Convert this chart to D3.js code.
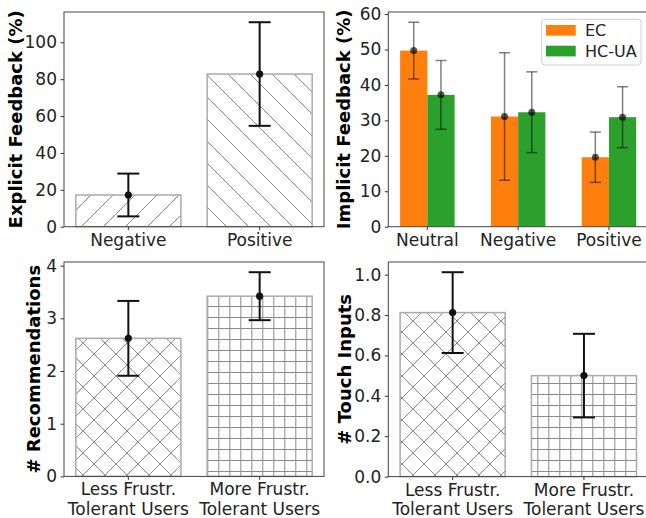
<!DOCTYPE html>
<html><head><meta charset="utf-8">
<script src="https://cdn.jsdelivr.net/npm/d3@7"></script>
<style>body{margin:0;background:#fff} text{font-family:"DejaVu Sans",sans-serif}</style>
</head><body>
<svg id="c" width="646" height="518"></svg>
<script>
// ---------- data ----------
const explicitCats = ["Negative", "Positive"];
const explicitVals = [17.2, 82.8];
const explicitErr  = [11.6, 28.1];
const explicitTicks = [0, 20, 40, 60, 80, 100];

const implicitCats = ["Neutral", "Negative", "Positive"];
const implicitSeries = ["EC", "HC-UA"];
const ecVals = [49.7, 31.1, 19.6];
const ecErr  = [8.0, 18.0, 7.1];
const hcVals = [37.2, 32.3, 30.9];
const hcErr  = [9.7, 11.4, 8.6];
const implicitTicks = [0, 10, 20, 30, 40, 50, 60];

const userCats = [["Less Frustr.", "Tolerant Users"], ["More Frustr.", "Tolerant Users"]];
const recVals = [2.62, 3.42];
const recErr  = [0.71, 0.455];
const recTicks = [0, 1, 2, 3, 4];
const touchVals = [0.812, 0.50];
const touchErr  = [0.20, 0.207];
const touchTicks = [0, 0.2, 0.4, 0.6, 0.8, 1.0];

// ---------- setup ----------
const svg = d3.select("#c");
const FS = "17px";
const defs = svg.append("defs");
function pat(id, w, d, ox, oy) {
  const p = defs.append("pattern").attr("id", id).attr("patternUnits", "userSpaceOnUse")
    .attr("width", w).attr("height", w).attr("x", ox).attr("y", oy);
  p.append("path").attr("d", d).attr("stroke", "#8a8a8a").attr("stroke-width", 1).attr("fill", "none");
}
pat("hNE", 22, "M-5.5,5.5L5.5,-5.5M0,22L22,0M16.5,27.5L27.5,16.5", 0, 0);
pat("hNW", 22, "M-5.5,16.5L5.5,27.5M0,0L22,22M16.5,-5.5L27.5,5.5", 0, 0);
pat("hX", 22, "M-5.5,5.5L5.5,-5.5M0,22L22,0M16.5,27.5L27.5,16.5M-5.5,16.5L5.5,27.5M0,0L22,22M16.5,-5.5L27.5,5.5", 6, 2);
pat("hPlus", 11, "M5.5,0V11M0,5.5H11", 4.3, 4);

function axesFrame(b, x, y, ticks, fmt, ylabel, labelX) {
  const ax = svg.append("g").attr("transform", `translate(${b.left},0)`)
    .call(d3.axisLeft(y).tickValues(ticks).tickFormat(fmt).tickSize(3.5).tickPadding(3.5));
  ax.select(".domain").remove();
  ax.selectAll("line").attr("stroke", "#333");
  ax.selectAll("text").attr("font-size", FS).attr("fill", "#222").style("font-family", "DejaVu Sans");
  svg.append("text").attr("transform", `translate(${labelX},${(b.top + b.bottom) / 2}) rotate(-90)`)
    .attr("text-anchor", "middle").attr("font-size", "18px").attr("font-weight", "bold")
    .attr("fill", "#000").text(ylabel);
}
function xAxis(b, x, idx, labels, twoLine) {
  const g = svg.append("g");
  idx.forEach((i, k) => {
    const cx = x(i);
    g.append("line").attr("x1", cx).attr("x2", cx).attr("y1", b.bottom).attr("y2", b.bottom + 3.5).attr("stroke", "#333");
    const t = g.append("text").attr("text-anchor", "middle").attr("font-size", FS).attr("fill", "#222");
    if (twoLine) {
      labels[k].forEach((ln, j) => t.append("tspan").attr("x", cx).attr("y", b.bottom + 19 + j * 19.6).text(ln));
    } else {
      t.attr("x", cx).attr("y", b.bottom + 19).text(labels[k]);
    }
  });
}
function spines(b) {
  svg.append("rect").attr("x", b.left).attr("y", b.top).attr("width", b.right - b.left)
    .attr("height", b.bottom - b.top).attr("fill", "none").attr("stroke", "#444").attr("stroke-width", 1);
}
function hatchBar(x0, x1, y0, y1, patId) {
  svg.append("rect").attr("x", x0).attr("y", y1).attr("width", x1 - x0).attr("height", y0 - y1).attr("fill", "#fff");
  svg.append("rect").attr("x", x0).attr("y", y1).attr("width", x1 - x0).attr("height", y0 - y1)
    .attr("fill", `url(#${patId})`).attr("stroke", "#aaa").attr("stroke-width", 1.5);
}
function errBar(cx, y, v, e, cap, color, op, lw, r, dotOp) {
  const g = svg.append("g");
  g.append("line").attr("x1", cx).attr("x2", cx).attr("y1", y(v - e)).attr("y2", y(v + e))
    .attr("stroke", color).attr("stroke-opacity", op).attr("stroke-width", lw);
  [v - e, v + e].forEach(t => g.append("line").attr("x1", cx - cap).attr("x2", cx + cap)
    .attr("y1", y(t)).attr("y2", y(t)).attr("stroke", color).attr("stroke-opacity", op).attr("stroke-width", lw));
  g.append("circle").attr("cx", cx).attr("cy", y(v)).attr("r", r).attr("fill", color).attr("fill-opacity", dotOp);
}
const ymaxOf = (vals, errs) => d3.max(vals.map((v, i) => v + errs[i])) * 1.05;

// ---------- panel 1: explicit ----------
{
  const b = {left: 64, right: 324, top: 12, bottom: 226.7};
  const x = d3.scaleLinear().domain([-0.49, 1.49]).range([b.left, b.right]);
  const y = d3.scaleLinear().domain([0, ymaxOf(explicitVals, explicitErr)]).range([b.bottom, b.top]);
  const pats = ["hNE", "hNW"];
  explicitVals.forEach((v, i) => hatchBar(x(i - 0.4), x(i + 0.4), y(0), y(v), pats[i]));
  explicitVals.forEach((v, i) => errBar(x(i), y, v, explicitErr[i], 11, "#111", 1, 2, 3.6, 1));
  axesFrame(b, x, y, explicitTicks, d3.format("d"), "Explicit Feedback (%)", 21.6);
  xAxis(b, x, [0, 1], explicitCats, false);
  spines(b);
}
// ---------- panel 2: implicit ----------
{
  const b = {left: 388.3, right: 648, top: 12, bottom: 226.7};
  const x = d3.scaleLinear().domain([-0.43, 2.43]).range([b.left, b.right]);
  const y = d3.scaleLinear().domain([0, ymaxOf(ecVals.concat(hcVals), ecErr.concat(hcErr))]).range([b.bottom, b.top]);
  const colors = ["#ff7f0e", "#2ca02c"];
  const series = [[ecVals, ecErr], [hcVals, hcErr]];
  series.forEach(([vals], s) => vals.forEach((v, i) => {
    const off = s === 0 ? -0.3 : 0;
    svg.append("rect").attr("x", x(i + off)).attr("y", y(v)).attr("width", x(0.3) - x(0))
      .attr("height", y(0) - y(v)).attr("fill", colors[s]);
  }));
  series.forEach(([vals, errs], s) => vals.forEach((v, i) => {
    const c = s === 0 ? i - 0.15 : i + 0.15;
    errBar(x(c), y, v, errs[i], 5.5, "#000", 0.5, 1.5, 3.5, 0.65);
  }));
  axesFrame(b, x, y, implicitTicks, d3.format("d"), "Implicit Feedback (%)", 350);
  xAxis(b, x, [0, 1, 2], implicitCats, false);
  spines(b);
  // legend
  const lg = svg.append("g");
  lg.append("rect").attr("x", 541.7).attr("y", 19.3).attr("width", 99.3).attr("height", 45.7).attr("rx", 3)
    .attr("fill", "#fff").attr("fill-opacity", 0.8).attr("stroke", "#d0d0d0");
  implicitSeries.forEach((name, s) => {
    lg.append("rect").attr("x", 546).attr("y", 25 + s * 20.7).attr("width", 29.7).attr("height", 10.7).attr("fill", colors[s]);
    lg.append("text").attr("x", 585).attr("y", 36 + s * 20.5).attr("font-size", "16px").attr("fill", "#222").text(name);
  });
}
// ---------- panel 3: recommendations ----------
{
  const b = {left: 64, right: 324, top: 262, bottom: 476.4};
  const x = d3.scaleLinear().domain([-0.49, 1.49]).range([b.left, b.right]);
  const y = d3.scaleLinear().domain([0, ymaxOf(recVals, recErr)]).range([b.bottom, b.top]);
  const pats = ["hX", "hPlus"];
  recVals.forEach((v, i) => hatchBar(x(i - 0.4), x(i + 0.4), y(0), y(v), pats[i]));
  recVals.forEach((v, i) => errBar(x(i), y, v, recErr[i], 11, "#111", 1, 2, 3.6, 1));
  axesFrame(b, x, y, recTicks, d3.format("d"), "# Recommendations", 40);
  xAxis(b, x, [0, 1], userCats, true);
  spines(b);
}
// ---------- panel 4: touch inputs ----------
{
  const b = {left: 388.3, right: 648.3, top: 262, bottom: 476.6};
  const x = d3.scaleLinear().domain([-0.49, 1.49]).range([b.left, b.right]);
  const y = d3.scaleLinear().domain([0, ymaxOf(touchVals, touchErr)]).range([b.bottom, b.top]);
  const pats = ["hX", "hPlus"];
  touchVals.forEach((v, i) => hatchBar(x(i - 0.4), x(i + 0.4), y(0), y(v), pats[i]));
  touchVals.forEach((v, i) => errBar(x(i), y, v, touchErr[i], 11, "#111", 1, 2, 3.6, 1));
  axesFrame(b, x, y, touchTicks, d3.format(".1f"), "# Touch Inputs", 351);
  xAxis(b, x, [0, 1], userCats, true);
  spines(b);
}
</script>
</body></html>
